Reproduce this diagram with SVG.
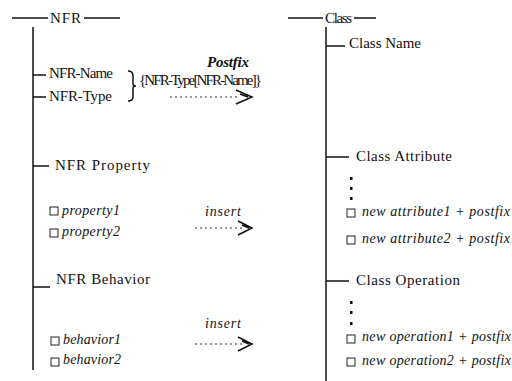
<svg xmlns="http://www.w3.org/2000/svg" width="512" height="381" viewBox="0 0 512 381">
<style>
.t{font-family:"Liberation Serif","DejaVu Serif","Times New Roman",serif;font-size:15px;fill:#111}
.i{font-family:"Liberation Serif","DejaVu Serif","Times New Roman",serif;font-style:italic;font-size:14px;fill:#111}
.ln{stroke:#111;stroke-width:1.5;fill:none}
.dash{stroke:#333;stroke-width:1.2;stroke-dasharray:2 3;fill:none}
.box{fill:#fff;stroke:#222;stroke-width:1}
.dot{fill:#111}
</style>
<rect width="512" height="381" fill="#fff"/>
<g id="nfr">
<line class="ln" x1="12" y1="18" x2="48" y2="18"/>
<text class="t" x="50" y="23" textLength="31">NFR</text>
<line class="ln" x1="84" y1="18" x2="120" y2="18"/>
<line class="ln" x1="33" y1="27" x2="33" y2="370"/>
</g>
<g id="nfr-name">
<line class="ln" x1="33" y1="75" x2="46" y2="75"/>
<text class="t" x="49" y="78" font-size="14" textLength="64">NFR-Name</text>
</g>
<g id="nfr-type">
<line class="ln" x1="33" y1="97" x2="46" y2="97"/>
<text class="t" x="49" y="101" font-size="14" textLength="63">NFR-Type</text>
<path class="ln" d="M128 71 Q133 71 133 76 L133 84 Q133 86 136 86 Q133 86 133 88 L133 97 Q133 101 128 101" stroke-width="1"/>
</g>
<g id="nfr-property">
<line class="ln" x1="33" y1="166" x2="49" y2="166"/>
<text class="t" x="55" y="170" textLength="95">NFR Property</text>
</g>
<g id="property1"><rect class="box" x="50" y="207" width="8" height="8"/><text class="i" x="62" y="215" textLength="58">property1</text></g>
<g id="property2"><rect class="box" x="50" y="229" width="8" height="8"/><text class="i" x="62" y="236" textLength="58">property2</text></g>
<g id="nfr-behavior">
<line class="ln" x1="33" y1="287" x2="50" y2="287"/>
<text class="t" x="56" y="284" textLength="94">NFR Behavior</text>
</g>
<g id="behavior1"><rect class="box" x="51" y="337" width="8" height="8"/><text class="i" x="63" y="344" textLength="58">behavior1</text></g>
<g id="behavior2"><rect class="box" x="51" y="358" width="8" height="8"/><text class="i" x="63" y="364" textLength="58">behavior2</text></g>

<g id="postfix">
<text x="207" y="67" style="font-family:'Liberation Serif','DejaVu Serif',serif;font-style:italic;font-weight:bold;font-size:15px;fill:#111" textLength="42">Postfix</text>
<text class="t" x="139" y="85" font-size="12.5" textLength="123">{NFR-Type[NFR-Name]}</text>
</g>
<g id="insert1"><text class="i" x="205" y="216" textLength="36">insert</text></g>
<g id="insert2"><text class="i" x="205" y="328" textLength="36">insert</text></g>

<g id="class">
<line class="ln" x1="288" y1="18" x2="323" y2="18"/>
<text class="t" x="325" y="23" font-size="13" textLength="27">Class</text>
<line class="ln" x1="354" y1="18" x2="376" y2="18"/>
<line class="ln" x1="326" y1="27" x2="326" y2="381"/>
</g>
<g id="class-name">
<line class="ln" x1="326" y1="46" x2="345" y2="46"/>
<text class="t" x="349" y="48" textLength="72">Class Name</text>
</g>
<g id="class-attribute">
<line class="ln" x1="326" y1="157" x2="349" y2="157"/>
<text class="t" x="356" y="161" textLength="96">Class Attribute</text>
<rect class="dot" x="350" y="177" width="2.5" height="3"/>
<rect class="dot" x="350" y="187" width="2.5" height="3"/>
<rect class="dot" x="350" y="197" width="2.5" height="3"/>
</g>
<g id="attr1"><rect class="box" x="347" y="209" width="8" height="8"/><text class="i" x="362" y="216" textLength="148">new attribute1 + postfix</text></g>
<g id="attr2"><rect class="box" x="347" y="236" width="8" height="8"/><text class="i" x="362" y="243" textLength="148">new attribute2 + postfix</text></g>
<g id="class-operation">
<line class="ln" x1="326" y1="281" x2="349" y2="281"/>
<text class="t" x="356" y="285" textLength="104">Class Operation</text>
<rect class="dot" x="350" y="301" width="2.5" height="3"/>
<rect class="dot" x="350" y="311" width="2.5" height="3"/>
<rect class="dot" x="350" y="322" width="2.5" height="3"/>
</g>
<g id="op1"><rect class="box" x="347" y="335" width="8" height="8"/><text class="i" x="362" y="341" textLength="149">new operation1 + postfix</text></g>
<g id="op2"><rect class="box" x="347" y="358" width="8" height="8"/><text class="i" x="362" y="365" textLength="149">new operation2 + postfix</text></g>

<g id="connectors">
<line class="dash" x1="170" y1="97" x2="240" y2="97"/>
<path class="ln" stroke-width="1" d="M236 90 L252 97 L236 104 M240 94 L248 97"/>
<line class="dash" x1="195" y1="228" x2="242" y2="228"/>
<path class="ln" stroke-width="1" d="M238 221 L252 228 L238 235 M242 225 L249 228"/>
<line class="dash" x1="195" y1="344" x2="242" y2="344"/>
<path class="ln" stroke-width="1" d="M238 337 L252 344 L238 351 M242 341 L249 344"/>
</g>
</svg>
